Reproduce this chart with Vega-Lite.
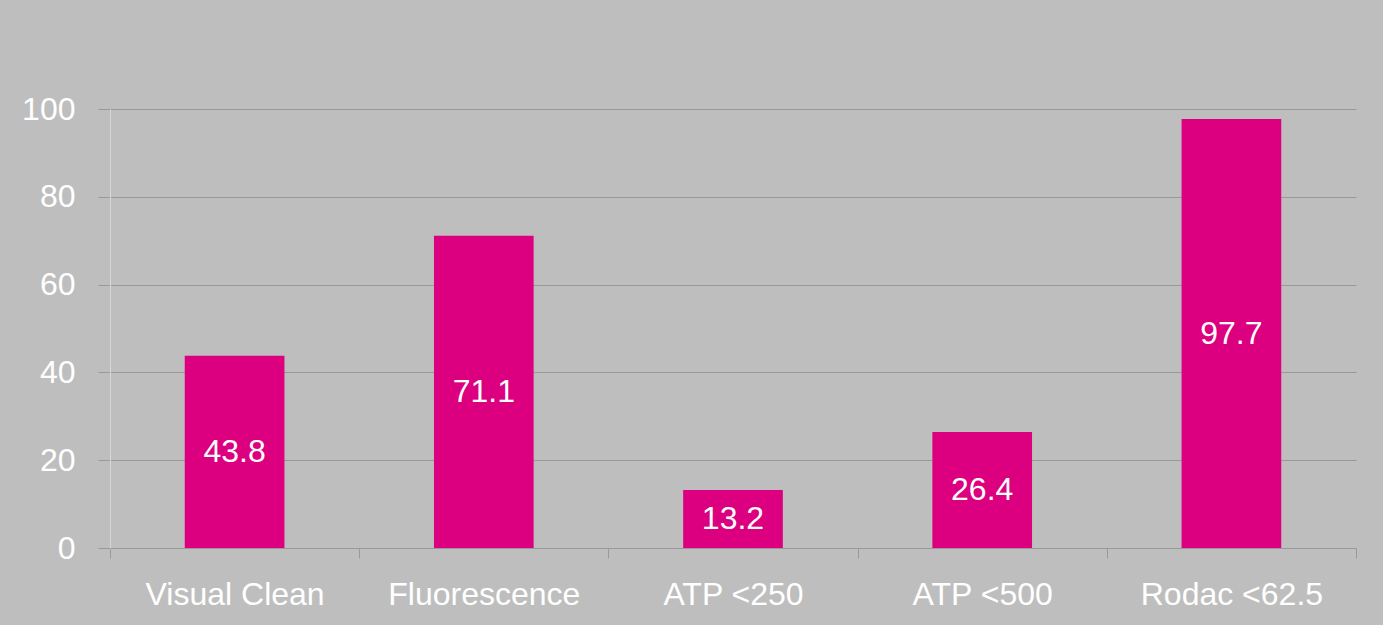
{
  "$schema": "https://vega.github.io/schema/vega-lite/v6.json",
  "width": 1246,
  "height": 439,
  "autosize": {"type": "none"},
  "padding": {"left": 110, "top": 109, "right": 27, "bottom": 77},
  "background": "#BEBEBE",
  "data": {
    "values": [
      {"category": "Visual Clean", "value": 43.8},
      {"category": "Fluorescence", "value": 71.1},
      {"category": "ATP <250", "value": 13.2},
      {"category": "ATP <500", "value": 26.4},
      {"category": "Rodac <62.5", "value": 97.7}
    ]
  },
  "encoding": {
    "x": {
      "field": "category",
      "type": "nominal",
      "sort": null,
      "scale": {"paddingInner": 0, "paddingOuter": 0},
      "axis": {
        "title": null,
        "labelAngle": 0,
        "labelFont": "Liberation Sans",
        "labelFontSize": 32,
        "labelLimit": 0,
        "labelColor": "white",
        "labelPadding": 21,
        "tickBand": "extent",
        "tickSize": 10,
        "tickColor": "#999999",
        "domainColor": "#999999",
        "grid": false
      }
    }
  },
  "layer": [
    {
      "mark": {"type": "bar", "color": "#DC0080", "width": {"band": 0.4}},
      "encoding": {
        "y": {
          "field": "value",
          "type": "quantitative",
          "scale": {"domain": [0, 100]},
          "axis": {
            "title": null,
            "values": [0, 20, 40, 60, 80, 100],
            "labelFont": "Liberation Sans",
            "labelFontSize": 32,
            "labelColor": "white",
            "labelPadding": 23,
            "tickSize": 12,
            "tickColor": "#999999",
            "gridColor": "#999999",
            "domainColor": "#D6D6D6"
          }
        }
      }
    },
    {
      "transform": [{"calculate": "datum.value / 2", "as": "mid"}],
      "mark": {"type": "text", "font": "Liberation Sans", "fontSize": 32, "color": "white", "baseline": "middle"},
      "encoding": {
        "y": {"field": "mid", "type": "quantitative"},
        "text": {"field": "value", "type": "quantitative", "format": ".1f"}
      }
    }
  ],
  "config": {"view": {"stroke": null}}
}
